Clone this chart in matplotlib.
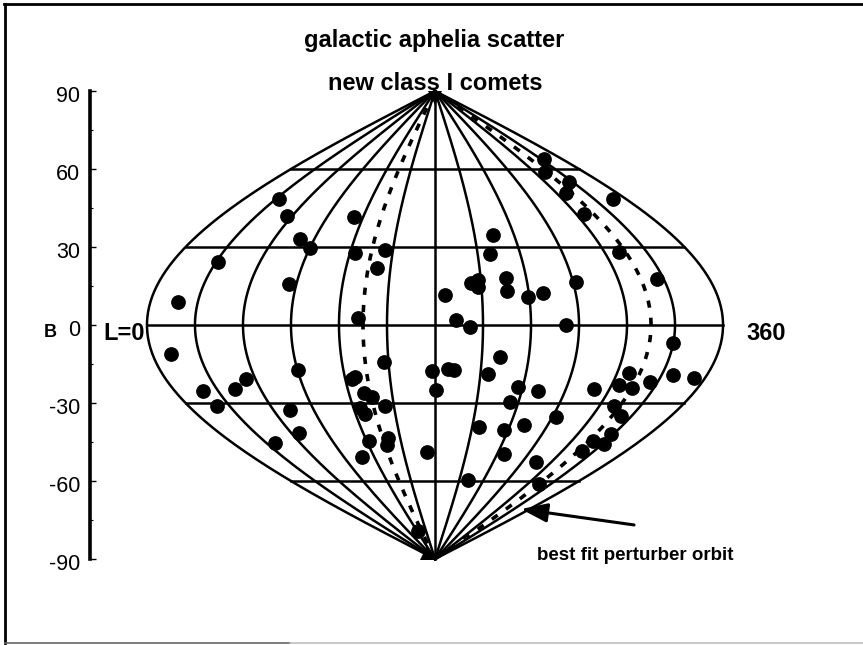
import numpy as np
import matplotlib
matplotlib.use('Agg')
import matplotlib.pyplot as plt
from matplotlib.lines import Line2D
from matplotlib.transforms import ScaledTranslation

plt.rcParams['font.family'] = ['Liberation Sans', 'DejaVu Sans']

# aphelia, galactic longitude and latitude (degrees)
L = [17.4,11.8,19.5,20.6,42.5,53.7,31.3,32.9,55.7,79.3,90.2,85.1,90.3,72.4,37.5,66.5,
     112.4,123.5,144.3,140.9,131.8,147.1,126.8,124.5,130.6,135.5,124.8,127.1,143.5,139.5,136.6,122.1,
     107.9,172.4,123.3,178,180.7,188.5,192.4,186.4,193.1,201.9,203.4,208.1,207.8,218.7,224,226.7,
     226.2,239.2,249.1,261.9,271.9,220.7,215.5,215,221.6,233.9,236.7,236.6,251,246.5,251.3,272.8,
     284.1,314.9,289.3,334.4,312.7,326,309.6,306.7,347.8,310.4,325.6,329.8,337.6,352.8,324.8,305,
     307.9,315,310.8,322,327.8,331.6,318.7,318.5]
B = [8.8,-11.2,-25.4,-31.2,-24.6,-20.8,24.2,48.5,41.9,33.1,29.6,15.8,-17.3,-32.7,-45.4,-41.5,
     41.5,27.7,28.8,21.9,2.7,-14.2,-20,-20.8,-26.2,-27.7,-31.9,-34.2,-31.2,-43.5,-46.2,-44.6,
     -50.8,-48.8,-79.2,-17.7,-25,-16.9,-17.3,11.5,1.9,-0.8,16.2,17.3,14.6,27.3,34.6,18.1,
     13.1,10.8,12.3,0,16.5,-59.6,-39.2,-18.8,-12.3,-29.6,-23.8,-40.4,-38.5,-49.6,-25.4,-35.4,
     -52.7,-61.2,-24.6,63.8,58.8,55,50.8,42.7,48.5,28.1,17.7,-6.9,-19.2,-20.4,-21.9,-23.1,
     -18.5,-24.2,-31.2,-35,-41.9,-45.8,-44.6,-48.5]
meridians = [0,30,60,90,120,150,180,210,240,270,300,330,360]
parallels = [-60,-30,0,30,60]
orbit_L = [135,315]
b_ticks = [-90,-60,-30,0,30,60,90]
b_labels = ['-90','-60','-30','0','30','60','90']
b_minor = [-75,-45,-15,15,45,75]

def proj(lon, lat):
    return (np.asarray(lon)-180)*np.cos(np.radians(lat))

W,H = 863,645
fig = plt.figure(figsize=(W/100,H/100), dpi=100)
ax = fig.add_axes([90/W, (H-559)/H, 690/W, 468/H])
ax.set_xlim(-215.6,215.6)
ax.set_ylim(-90,90)
ax.patch.set_alpha(0)
for s in ['top','right','bottom']:
    ax.spines[s].set_visible(False)
ax.spines['left'].set_linewidth(2.6)
ax.set_xticks([])
ax.set_yticks(b_ticks)
ax.set_yticklabels(b_labels)
ax.set_yticks(b_minor, minor=True)
ax.tick_params(axis='y', which='major', direction='in', length=4.5, width=1, labelsize=15.5, pad=7)
ax.tick_params(axis='y', which='minor', direction='in', length=2.5, width=0.8)
# labels sit a little under their ticks
for lab in ax.get_yticklabels():
    lab.set_transform(lab.get_transform()+ScaledTranslation(0,-3.5/100,fig.dpi_scale_trans))

lat = np.linspace(-90,90,181)
for m in meridians:
    ax.plot(proj(m,lat), lat, color='k', lw=1.8, clip_on=False)
for p in parallels:
    ax.plot([proj(0,p),proj(360,p)], [p,p], color='k', lw=1.8)
for m in orbit_L:
    ax.plot(proj(m,lat), lat, color='k', lw=2.6, dashes=(2,2.8), clip_on=False)
ax.scatter(proj(L,B), B, s=92, color='k', zorder=5, clip_on=False)

# pole wedges where the meridians merge
ax.plot([0],[87.3], marker='v', ms=10, mew=0, color='k', clip_on=False)
ax.plot([-5],[-87.6], marker='^', ms=10, mew=0, color='k', clip_on=False)

fig.text(434/W, 1-41/H, 'galactic aphelia scatter', ha='center', va='center', fontsize=17, fontweight='bold')
fig.text(435/W, 1-84/H, 'new class I comets', ha='center', va='center', fontsize=17, fontweight='bold')
fig.text(50/W, 1-332/H, 'B', ha='center', va='center', fontsize=13, fontweight='bold')
fig.text(124/W, 1-333/H, 'L=0', ha='center', va='center', fontsize=17, fontweight='bold')
fig.text(766/W, 1-333/H, '360', ha='center', va='center', fontsize=17, fontweight='bold')
fig.text(635/W, 1-555/H, 'best fit perturber orbit', ha='center', va='center', fontsize=13.5, fontweight='bold')

ax.annotate('', xy=(53.75,-70.8), xytext=(124.4,-76.9),
            arrowprops=dict(arrowstyle='-|>,head_width=0.58,head_length=1.6', color='k', lw=2.2, shrinkA=0, shrinkB=0))

# frame of the scanned page, no right edge
fig.add_artist(Line2D([5/W,5/W],[1-4/H,1-643/H], color='k', lw=2))
fig.add_artist(Line2D([4/W,863/W],[1-4/H,1-4/H], color='k', lw=2))
fig.add_artist(Line2D([5/W,290/W],[1-643/H,1-643/H], color='0.4', lw=1.2))
fig.add_artist(Line2D([290/W,863/W],[1-643/H,1-643/H], color='0.75', lw=1.2))

plt.savefig('out.png', dpi=100)
plt.close()
